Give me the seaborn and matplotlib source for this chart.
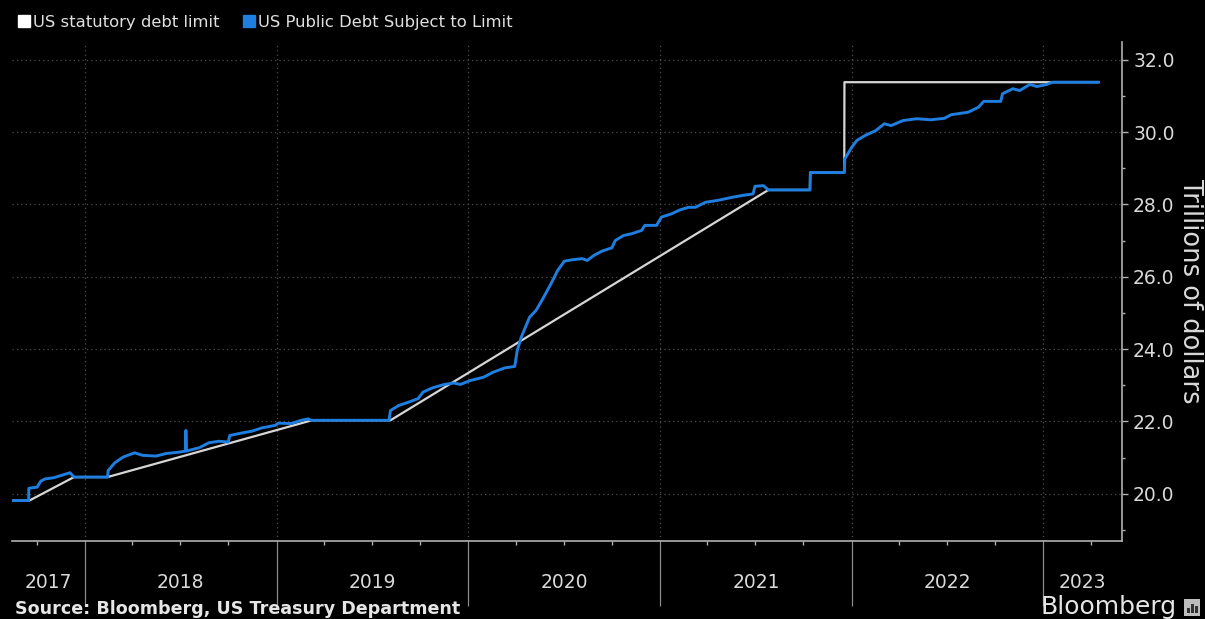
import numpy as np
import pandas as pd
import matplotlib
matplotlib.use("Agg")
import matplotlib.pyplot as plt
import matplotlib.dates as mdates
import matplotlib.transforms as mtransforms
from matplotlib.lines import Line2D
from matplotlib.patches import Rectangle
from matplotlib.ticker import MultipleLocator, NullFormatter
import seaborn as sns

# ---------------- data (decimal years, trillions of dollars) ----------------
limit_t = [2017.620, 2017.710, 2017.943, 2018.118, 2019.185, 2019.595,
           2021.565, 2021.782, 2021.783, 2021.961, 2021.962, 2023.289]
limit_v = [19.81, 19.81, 20.46, 20.46, 22.03, 22.03,
           28.40, 28.40, 28.88, 28.88, 31.38, 31.38]

debt_t = [2017.620, 2017.706, 2017.707, 2017.750, 2017.770, 2017.793, 2017.836,
          2017.879, 2017.922, 2017.943, 2018.118, 2018.121, 2018.155, 2018.198,
          2018.259, 2018.302, 2018.371, 2018.423, 2018.492, 2018.526, 2018.527,
          2018.529, 2018.596, 2018.648, 2018.699, 2018.748, 2018.756, 2018.820,
          2018.872, 2018.924, 2018.993, 2019.010, 2019.078, 2019.129, 2019.166,
          2019.180, 2019.587, 2019.595, 2019.638, 2019.689, 2019.739, 2019.765,
          2019.816, 2019.875, 2019.926, 2019.960, 2020.011, 2020.080, 2020.131,
          2020.192, 2020.243, 2020.256, 2020.277, 2020.320, 2020.354, 2020.389,
          2020.432, 2020.466, 2020.501, 2020.543, 2020.595, 2020.620, 2020.655,
          2020.698, 2020.749, 2020.766, 2020.809, 2020.852, 2020.903, 2020.920,
          2020.981, 2021.007, 2021.060, 2021.104, 2021.149, 2021.184, 2021.237,
          2021.299, 2021.379, 2021.432, 2021.485, 2021.495, 2021.539, 2021.565,
          2021.782, 2021.784, 2021.961, 2021.964, 2022.000, 2022.027, 2022.071,
          2022.125, 2022.170, 2022.206, 2022.268, 2022.340, 2022.411, 2022.483,
          2022.519, 2022.608, 2022.662, 2022.689, 2022.778, 2022.787, 2022.841,
          2022.877, 2022.930, 2022.966, 2023.020, 2023.047, 2023.289]
debt_v = [19.81, 19.81, 20.15, 20.18, 20.35, 20.41, 20.44,
          20.51, 20.58, 20.46, 20.46, 20.64, 20.85, 21.01,
          21.13, 21.06, 21.04, 21.11, 21.15, 21.18, 21.75,
          21.18, 21.27, 21.41, 21.45, 21.43, 21.61, 21.68,
          21.73, 21.82, 21.89, 21.95, 21.94, 22.03, 22.07,
          22.03, 22.03, 22.30, 22.44, 22.53, 22.63, 22.81,
          22.93, 23.02, 23.06, 23.02, 23.13, 23.22, 23.36,
          23.48, 23.52, 23.96, 24.33, 24.88, 25.07, 25.39,
          25.81, 26.17, 26.43, 26.47, 26.50, 26.45, 26.59,
          26.71, 26.80, 27.00, 27.14, 27.19, 27.28, 27.42,
          27.42, 27.65, 27.74, 27.85, 27.92, 27.92, 28.06,
          28.11, 28.20, 28.25, 28.29, 28.50, 28.52, 28.40,
          28.40, 28.88, 28.88, 29.26, 29.58, 29.77, 29.91,
          30.04, 30.23, 30.18, 30.32, 30.37, 30.34, 30.38,
          30.48, 30.55, 30.69, 30.85, 30.85, 31.06, 31.20,
          31.15, 31.32, 31.26, 31.32, 31.38, 31.38]

years = [2017, 2018, 2019, 2020, 2021, 2022, 2023]
y_ticks = [20, 22, 24, 26, 28, 30, 32]
series_names = ["US statutory debt limit", "US Public Debt Subject to Limit"]


def to_date(y):
    yr = int(np.floor(y))
    start = pd.Timestamp(yr, 1, 1)
    end = pd.Timestamp(yr + 1, 1, 1)
    return start + (end - start) * (y - yr)


# ---------------- style ----------------
sns.set_theme(style="ticks")
plt.rcParams["font.family"] = ["DejaVu Sans"]
TXT = "#d9d9d9"
AX = "#b0b0b0"
GRID = "#4d4d4d"
WHITE_LINE = "#d6d6d6"
BLUE = "#1f7fe0"

W, H = 1205, 619
fig = plt.figure(figsize=(W / 100, H / 100), dpi=100, facecolor="black")
ax = fig.add_axes([12 / W, 1 - 540.7 / H, 1110 / W, 499 / H])
ax.set_facecolor("black")

df_lim = pd.DataFrame({"date": [to_date(t) for t in limit_t], "value": limit_v})
df_debt = pd.DataFrame({"date": [to_date(t) for t in debt_t], "value": debt_v})

sns.lineplot(data=df_lim, x="date", y="value", ax=ax, color=WHITE_LINE,
             linewidth=1.6, estimator=None, sort=False)
sns.lineplot(data=df_debt, x="date", y="value", ax=ax, color=BLUE,
             linewidth=2.1, estimator=None, sort=False)

ax.set_xlim(pd.Timestamp("2017-08-15"), pd.Timestamp("2023-05-31"))
ax.set_ylim(18.7, 32.5)
ax.set_xlabel("")
ax.set_ylabel("")

# spines
for s in ["left", "top"]:
    ax.spines[s].set_visible(False)
for s in ["right", "bottom"]:
    ax.spines[s].set_color(AX)
    ax.spines[s].set_linewidth(1.2)

# y axis on the right
ax.yaxis.tick_right()
ax.set_yticks(y_ticks)
ax.set_yticklabels([f"{v:.1f}" for v in y_ticks])
ax.yaxis.set_minor_locator(MultipleLocator(1))
ax.tick_params(axis="y", which="major", direction="out", length=4, width=1,
               color=AX, labelcolor=TXT, labelsize=13.5, pad=4,
               right=True, left=False)
ax.tick_params(axis="y", which="minor", direction="out", length=2.5, width=1,
               color=AX, right=True, left=False)

# x axis: long year separators and quarterly minor ticks
year_starts = [pd.Timestamp(f"{y}-01-01") for y in years[1:]]
ax.set_xticks(year_starts)
ax.set_xticklabels([""] * len(year_starts))
ax.xaxis.set_minor_locator(mdates.MonthLocator(bymonth=[1, 4, 7, 10]))
ax.xaxis.set_minor_formatter(NullFormatter())
ax.tick_params(axis="x", which="major", direction="out", length=47, width=0.9,
               color="#8a8a8a")
ax.tick_params(axis="x", which="minor", direction="out", length=3, width=1,
               color=AX)

ax.grid(True, which="major", axis="both", color=GRID,
        linestyle=(0, (1, 2.5)), linewidth=0.9)

# year labels centred in each visible year interval
x0, x1 = ax.get_xlim()
trans = mtransforms.blended_transform_factory(ax.transData, ax.transAxes)
for y in years:
    a = max(mdates.date2num(pd.Timestamp(f"{y}-01-01")), x0)
    b = min(mdates.date2num(pd.Timestamp(f"{y + 1}-01-01")), x1)
    ax.text((a + b) / 2, -0.083, str(y), transform=trans, ha="center",
            va="center", color=TXT, fontsize=13.5)

# right-side axis title
fig.text(1190 / W, 1 - 291 / H, "Trillions of dollars", rotation=-90,
         ha="center", va="center", color=TXT, fontsize=18.5)

# legend
handles = [Line2D([], [], marker="s", linestyle="", color="white", markersize=8.5),
           Line2D([], [], marker="s", linestyle="", color=BLUE, markersize=8.5)]
fig.legend(handles=handles, labels=series_names, loc="center left",
           bbox_to_anchor=(16 / W, 1 - 22 / H), ncol=2, frameon=False,
           fontsize=11.8, labelcolor="#e0e0e0", handletextpad=0.05,
           columnspacing=1.3, handlelength=1.0, borderaxespad=0, borderpad=0)

# footer
fig.text(15 / W, 1 - 609 / H, "Source: Bloomberg, US Treasury Department",
         ha="left", va="center", color="#e6e6e6", fontsize=12.6, weight="bold")
fig.text(1177 / W, 1 - 607 / H, "Bloomberg", ha="right", va="center",
         color="#e6e6e6", fontsize=18)
fig.add_artist(Rectangle((1184 / W, 1 - 616 / H), 16 / W, 17 / H,
                         transform=fig.transFigure, facecolor="#bdbdbd",
                         edgecolor="none"))
for i, hgt in enumerate([5, 9, 7]):
    fig.add_artist(Rectangle(((1187 + i * 4) / W, 1 - 613 / H), 2.5 / W, hgt / H,
                             transform=fig.transFigure, facecolor="#333333",
                             edgecolor="none"))

fig.savefig("out.png", dpi=100, facecolor="black")
